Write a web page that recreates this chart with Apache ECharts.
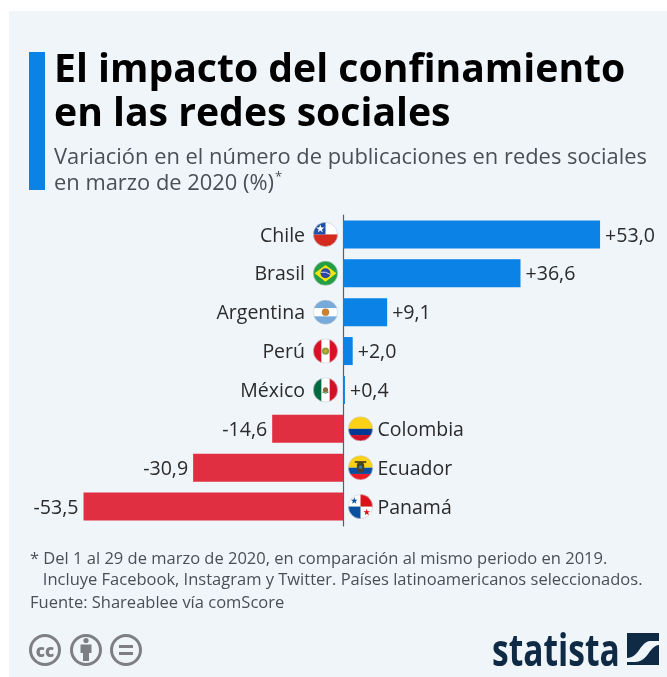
<!DOCTYPE html>
<html><head><meta charset="utf-8">
<style>html,body{margin:0;padding:0;background:#fff}#c{width:667px;height:677px}</style>
<script src="https://cdn.jsdelivr.net/npm/echarts@6/dist/echarts.min.js"></script>
</head><body><div id="c"></div>
<script>
const countries = ['Chile','Brasil','Argentina','Perú','México','Colombia','Ecuador','Panamá'];
const values = [53.0,36.6,9.1,2.0,0.4,-14.6,-30.9,-53.5];
const titleLines = ['El impacto del confinamiento','en las redes sociales'];
const subtitleLines = ['Variación en el número de publicaciones en redes sociales','en marzo de 2020 (%)'];
const noteLines = ['* Del 1 al 29 de marzo de 2020, en comparación al mismo periodo en 2019.','   Incluye Facebook, Instagram y Twitter. Países latinoamericanos seleccionados.','Fuente: Shareablee vía comScore'];

const flagArt = {
 'Chile':'<rect width="48" height="24" fill="#fff"/><rect y="24" width="48" height="24" fill="#d52b1e"/><rect width="24" height="24" fill="#1f4ea8"/><path d="M14 5l2 5.800h6l-4.900 3.600 1.900 5.800-5-3.600-5 3.600 1.900-5.800-4.900-3.600h6z" fill="#fff"/>',
 'Brasil':'<rect width="48" height="48" fill="#229e45"/><path d="M24 8L45 24 24 40 3 24z" fill="#f8e509"/><circle cx="24" cy="24" r="9.500" fill="#2b49a3"/><path d="M15 22q9-2 18 4" stroke="#fff" stroke-width="1.500" fill="none"/>',
 'Argentina':'<rect width="48" height="48" fill="#fff"/><rect width="48" height="16" fill="#75aadb"/><rect y="32" width="48" height="16" fill="#75aadb"/><circle cx="24" cy="24" r="7" fill="#c9812b"/>',
 'Perú':'<rect width="48" height="48" fill="#fff"/><rect width="16" height="48" fill="#d91023"/><rect x="32" width="16" height="48" fill="#d91023"/><circle cx="24" cy="24" r="7" fill="#8aa03c"/><circle cx="24" cy="24" r="3" fill="#d9a92b"/>',
 'México':'<rect width="48" height="48" fill="#fff"/><rect width="16" height="48" fill="#00693f"/><rect x="32" width="16" height="48" fill="#cf1126"/><circle cx="24" cy="24" r="5" fill="#8a6b3c"/><path d="M18 28q6 5 12 0" stroke="#3f8f4f" stroke-width="1.800" fill="none"/>',
 'Colombia':'<rect width="48" height="24" fill="#fcd116"/><rect y="24" width="48" height="12" fill="#003893"/><rect y="36" width="48" height="12" fill="#ce1126"/>',
 'Ecuador':'<rect width="48" height="24" fill="#fcd116"/><rect y="24" width="48" height="12" fill="#034ea2"/><rect y="36" width="48" height="12" fill="#ed1c24"/><rect x="17" y="14" width="14" height="19" rx="5" fill="#4a4324"/><path d="M13 13h22" stroke="#2d2a1c" stroke-width="3"/><circle cx="24" cy="23" r="3" fill="#3d7fb0"/>',
 'Panamá':'<rect width="48" height="48" fill="#fff"/><rect x="24" width="24" height="24" fill="#da121a"/><rect y="24" width="24" height="24" fill="#07509f"/><path d="M12 6l1.600 4.800h5l-4 3 1.500 4.800-4.100-3-4.100 3 1.500-4.800-4-3h5z" fill="#07509f"/><path d="M36 28l1.600 4.800h5l-4 3 1.500 4.800-4.100-3-4.100 3 1.500-4.800-4-3h5z" fill="#da121a"/>'
};
const flagUri = n => 'data:image/svg+xml;charset=utf-8,' + encodeURIComponent(
 '<svg xmlns="http://www.w3.org/2000/svg" width="96" height="96" viewBox="0 0 48 48"><defs><clipPath id="k"><circle cx="24" cy="24" r="23.500"/></clipPath></defs><g clip-path="url(#k)">'+flagArt[n]+'</g><circle cx="24" cy="24" r="23.200" fill="none" stroke="#c9ccd0" stroke-width="1.200"/></svg>');
const logoUri = 'data:image/svg+xml;charset=utf-8,' + encodeURIComponent(
 '<svg xmlns="http://www.w3.org/2000/svg" width="128" height="128" viewBox="0 0 32 32"><rect width="32" height="32" fill="#0f2a44"/><path d="M0 25C12 25 13 9 23 8L32 8V12C22 13 21 29 8 29L0 29Z" fill="#f0f5fa"/></svg>');

const FONT = '"Open Sans"';
const INK = '#2b2b2b';
const GREY = '#7d7f82';
const SUB = '#4a4f55';
const textEl = (x,base,text,size,weight,fill,align) => ({
  type:'text', x, y:base-0.75*size, silent:true,
  style:{text, font:`${weight} ${size}px ${FONT}`, fill, align:align||'left'}
});

const graphics = [
 {type:'rect',shape:{x:9,y:11,width:658,height:666},style:{fill:'#f0f5fa'},z:-10,silent:true},
 {type:'rect',shape:{x:29,y:52,width:16,height:138},style:{fill:'#0b82e5'},silent:true},
 textEl(54,81,titleLines[0],39.15,700,'#000'),
 textEl(54,125,titleLines[1],39.15,700,'#000'),
 textEl(54,163,subtitleLines[0],21.9,400,SUB),
 textEl(54,189,subtitleLines[1],21.9,400,SUB),
 textEl(275,181,'*',13,400,SUB),
 textEl(30,563,noteLines[0],16.5,400,SUB),
 textEl(30,584,noteLines[1],16.5,400,SUB),
 textEl(30,607,noteLines[2],16.5,400,SUB),
 {type:'circle',shape:{cx:45,cy:650,r:14.5},style:{fill:'none',stroke:GREY,lineWidth:3},silent:true},
 textEl(45,656,'cc',17,800,GREY,'center'),
 {type:'circle',shape:{cx:86,cy:650,r:14.5},style:{fill:'none',stroke:GREY,lineWidth:3},silent:true},
 {type:'circle',shape:{cx:86,cy:640.5,r:2.6},style:{fill:GREY},silent:true},
 {type:'polygon',shape:{points:[[80.5,644.5],[91.5,644.5],[91.5,653],[89,653],[89,661],[83,661],[83,653],[80.5,653]]},style:{fill:GREY},silent:true},
 {type:'circle',shape:{cx:126,cy:650,r:14.5},style:{fill:'none',stroke:GREY,lineWidth:3},silent:true},
 {type:'rect',shape:{x:119,y:645,width:14,height:3},style:{fill:GREY},silent:true},
 {type:'rect',shape:{x:119,y:652,width:14,height:3},style:{fill:GREY},silent:true},
 {type:'text',x:492,y:631,silent:true,scaleX:0.745,style:{text:'statista',font:`700 45px ${FONT}`,fill:'#0f2a44'}},
 {type:'image',style:{image:logoUri,x:627,y:633,width:32,height:32},silent:true}
];

const chart = echarts.init(document.getElementById('c'),null,{renderer:'canvas'});
chart.setOption({
 animation:false,
 textStyle:{fontFamily:FONT},
 graphic:{elements:graphics},
 grid:{left:52,width:582,top:215,height:311,containLabel:false},
 xAxis:{type:'value',min:-60,max:60,show:false},
 yAxis:{type:'category',data:countries,inverse:true,
   axisLine:{show:true,onZero:true,lineStyle:{color:'#5a5f64',width:1.2}},
   axisTick:{show:false},axisLabel:{show:false},splitLine:{show:false}},
 series:[
  {type:'bar',barWidth:28,
   data:values.map(v=>({value:v,
     itemStyle:{color:v>=0?'#0b82e5':'#e02f41'},
     label:{position:v>=0?'right':'left'}})),
   label:{show:true,distance:5,offset:[0,1.5],fontFamily:FONT,fontSize:19.6,color:INK,
     formatter:p=>(p.value>=0?'+':'')+p.value.toFixed(1).replace('.',',')}},
  {type:'custom',silent:true,z:5,
   data:values.map((v,i)=>[v,i]),
   encode:{x:-1,y:1},
   renderItem:(params,api)=>{
     const v=api.value(0), i=api.value(1), c=api.coord([0,i]);
     const s=v>=0?-1:1, name=countries[i];
     return {type:'group',children:[
       {type:'image',style:{image:flagUri(name),x:c[0]+s*17.5-12.5,y:c[1]-12.5,width:25,height:25}},
       {type:'text',x:c[0]+(s<0?-38:34.5),y:c[1]+1.5,
        style:{text:name,font:`400 19.5px ${FONT}`,fill:INK,
        align:s<0?'right':'left',verticalAlign:'middle'}}
     ]};
   }}
 ]
});
</script></body></html>
